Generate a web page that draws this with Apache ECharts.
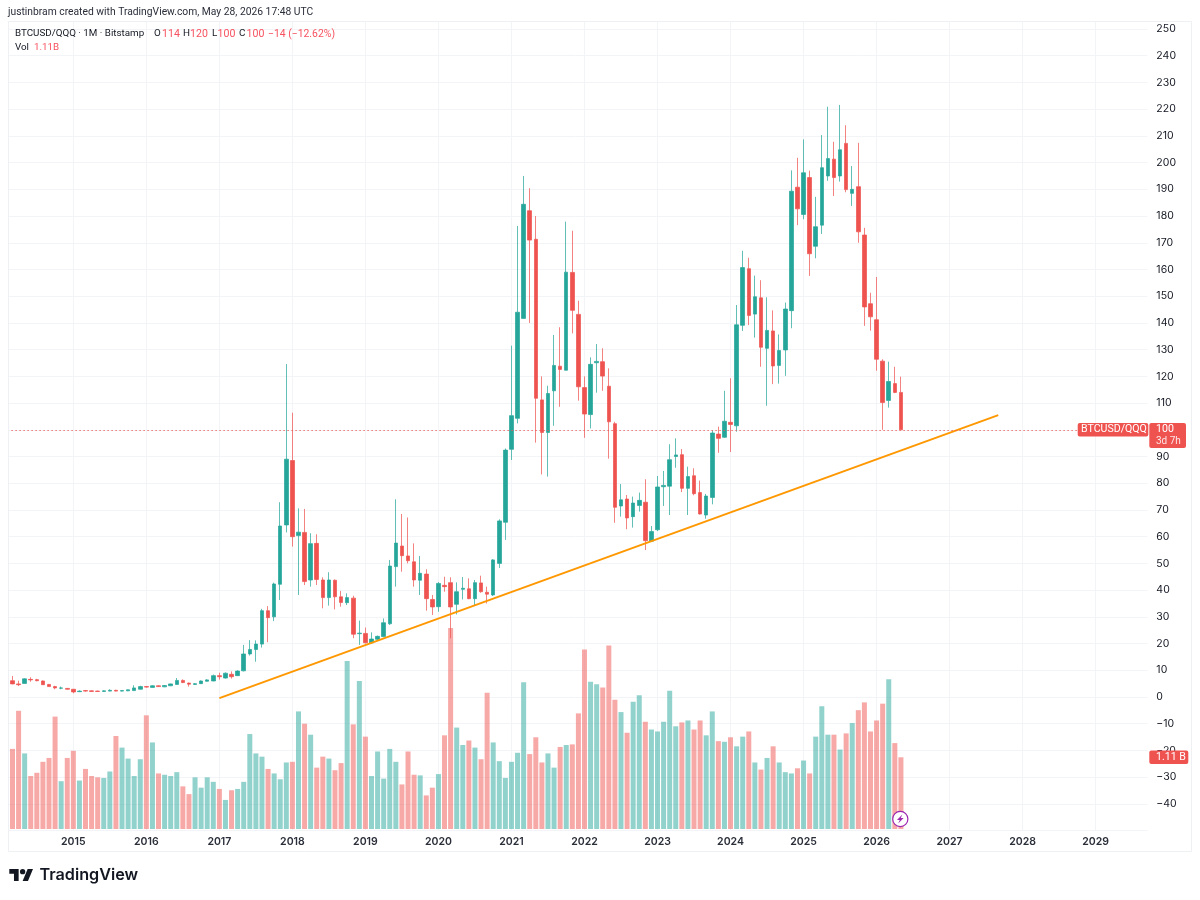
<!DOCTYPE html>
<html>
<head>
<meta charset="utf-8">
<style>html,body{margin:0;padding:0;background:#fff}#c{width:1200px;height:900px}</style>
<script src="https://cdn.jsdelivr.net/npm/echarts@6/dist/echarts.min.js"></script>
</head>
<body>
<div id="c"></div>
<script>
const firstYear = 2014, firstMonth = 2, monthCount = 188;

const opens = [9,6.1,4.9,5.1,6.6,6.5,6,4.7,3.9,3.3,3.2,2.9,2,2.4,2.3,2.2,2.1,2.2,2.5,2.2,2.3,2.4,2.9,3.9,3.6,4.2,3.8,4.2,4.7,6.2,5.2,4.7,5,5.9,6,8,7.1,8.5,8,9.8,16.1,17.8,19.8,32.3,30,42.2,64.4,88.5,60.4,61.6,43.8,57.5,43.8,37.2,43.7,37.5,35.3,37,23.7,23.8,20.3,21.6,22.6,27.4,48.8,56.5,52.8,50.6,43.7,46,36.5,33.8,41.8,42.8,34.7,40.3,40.5,36.8,42.7,39.2,38.2,50,65.4,92.7,104.3,141.7,182,171.3,111.2,99,114.6,123.8,122.3,158.9,143.2,115.8,105.7,125.1,125.5,116.3,102.3,71.5,74.1,67.5,71.7,72.9,58.3,62.6,78.7,78.9,90,90.7,78.1,82.8,76.5,68.1,74.7,98.4,97.2,102.8,101.5,139.1,160.3,143.3,149.4,130.5,137,124.1,129.9,144.6,190.8,180.6,194.4,168.7,176.6,195,201.3,195,207.2,188.5,191,172.9,147.2,141.2,125.7,111,117.3,114];
const closes = [6,4.9,4.6,6.8,6.4,6.1,4.6,3.9,3.4,3.4,2.9,1.9,2.2,2.2,2.1,2.1,2.3,2.5,2.2,2.4,2.7,3.4,3.9,3.7,4.2,3.9,4.3,4.9,6.2,5.4,4.8,5,6,6.4,8,7.6,8.9,7.6,9.7,16.1,17.8,19.8,32.3,29.7,42.3,64,89,60,61.7,43.2,57.4,44,37.2,43.8,37.5,35.4,37.2,23.5,23.9,20.3,21.7,22.7,27.8,49,57.6,52.9,51,43.8,46.3,36.8,33.7,42.5,41.3,33.7,39.4,40.7,36.8,42.8,39.4,38.5,51.3,65.9,92.4,105.3,144,184.4,171,111.8,99,113.6,124.1,122.6,159,144.7,116.1,105.9,124.5,125.6,120.1,103,71,73.8,67,72.6,73.6,58.5,61.9,78.6,79.2,88.8,90.6,78.1,82.5,76.1,68.5,75.2,98.8,96.8,103.2,102,139.3,160.7,142.8,149.8,130.9,137.2,123.9,129.7,145.2,189.3,182.7,196.2,165.9,176,198.1,201.5,194.4,204.8,189.9,190,174.1,146,142.3,126.4,110.2,118.1,114,100];
const lows = [5.7,4.8,4.1,5,5.7,5.9,4.5,3.8,2.9,2.9,2.8,1.4,1.9,2,1.9,1.9,2,2.1,2.1,2.1,2.2,2.3,2.8,3.5,3.5,3.8,3.7,4.1,4.6,5.2,3.9,4.6,4.9,5.8,5.9,6.5,6.9,6.9,7.9,9.6,15.5,13.2,18.5,20.5,28.4,36.3,61.6,56.3,38.2,41.9,41.3,41.9,33.2,34.2,32.8,33.8,34.4,22,19.5,20,19.9,21.2,22.4,27,41.3,46.9,50,41.3,38.2,32.3,30.7,31.9,39.4,22,30.9,36.5,36.6,34.4,39,35,37.8,48.3,58.8,88.7,102.4,141.7,140,95.2,83.3,82.5,101.5,108.6,122.3,136.1,110.9,97,100.5,113.9,114.6,89.2,65.2,67.5,62.8,63.4,69.4,55,58,62.1,71.5,68.1,85.8,76.7,68.1,75.5,68.3,66.7,72.1,91.4,97,91.7,99.3,137,139.2,134.5,123.6,109,117.1,117.3,120.2,138,176.6,178.8,157.6,164.2,173.3,193.2,187.5,192.9,188.9,183.8,170,138.9,137.1,122.1,100,108.3,113.7,100];
const highs = [9.5,7.9,6.1,7,7.4,6.8,6.2,4.9,4.2,3.9,3.4,3,2.5,2.6,2.5,2.4,2.5,2.9,2.7,2.5,2.8,4.4,4.2,4.1,4.4,4.4,4.5,5,7.1,6.6,5.4,5.2,6.2,6.7,8.4,9.1,9.2,9.6,10,19.5,21.3,21.2,33,34,42.8,72.9,124.6,106.4,70.6,70.4,61.3,60.9,44.8,46.7,44,39.7,38.8,37.9,28.6,26,24.2,23,29.4,51.3,74,68.5,67.2,57.5,52.8,47.8,38.2,43,45,44.8,42.9,44.9,44.4,43.8,45.4,41.3,51.6,66.5,93,131.5,176.3,195,190.4,180,120,116.5,135.5,138.4,177.9,174.5,148.3,120,127.1,132.1,130.5,123,103,79.7,75.6,75,76.5,81.5,64,82.7,84.6,94.6,96.8,92.8,86.2,85.6,81,76,99.9,101.2,114.6,119.3,146.7,167,164.4,157.7,156,149.6,144.7,135.7,147.6,197.1,201.8,208.7,197,187.2,210.3,220.9,207.8,221.6,214,198.7,207.4,175.6,151.3,157.2,126.4,125.5,123.6,119.9];
const volumes = [1.04,1.24,1.83,1.17,0.82,0.87,1.04,1.10,1.74,0.74,1.10,1.21,0.75,0.93,0.82,0.80,0.79,0.89,1.44,1.26,1.09,0.82,1.08,1.76,1.34,0.86,0.84,0.82,0.88,0.66,0.54,0.80,0.64,0.80,0.73,0.62,0.45,0.60,0.62,0.73,1.47,1.17,1.12,0.93,0.86,0.77,1.03,1.04,1.82,1.63,1.46,0.95,1.12,1.09,0.91,1.02,2.60,1.62,2.29,1.43,0.82,1.20,0.78,1.24,1.04,0.69,1.20,0.84,0.83,0.52,0.64,0.85,1.45,3.11,1.57,1.30,1.37,1.26,1.08,2.11,1.34,1.05,0.79,1.04,1.18,2.27,1.16,1.42,1.03,1.17,0.95,1.27,1.30,1.31,1.79,2.78,2.28,2.24,2.19,2.84,2.00,1.81,1.49,1.97,2.07,1.66,1.54,1.51,1.66,2.14,1.59,1.65,1.68,1.54,1.68,1.45,1.82,1.36,1.35,1.42,1.28,1.43,1.51,1.03,0.92,1.10,1.28,1.03,0.88,0.86,0.94,1.06,0.86,1.43,1.90,1.46,1.46,1.23,1.48,1.64,1.84,1.96,1.51,1.68,1.94,2.32,1.33,1.11];
const trendDates = ['2017-01','2027-09'];
const trendValues = [-0.4,105.5];
const lastPrice = 100;
const lastVolume = 1.11;
const UP='#26a69a', DOWN='#ef5350', UP_V='rgba(38,166,154,0.5)', DOWN_V='rgba(239,83,80,0.5)';
const UP_W='rgba(38,166,154,0.72)', DOWN_W='rgba(239,83,80,0.72)';
const GRIDC='#f2f4f8', INK='#131722', FONT='Inter, "Open Sans", sans-serif', HFONT='Roboto, Inter, sans-serif';

const categories=[];
for(let i=0;i<monthCount;i++){
  const m=firstMonth-1+i;
  categories.push((firstYear+Math.floor(m/12))+'-'+String(m%12+1).padStart(2,'0'));
}
const isJan=(i)=>categories[i].endsWith('-01');
const candleData=opens.map((o,i)=>[o,closes[i],lows[i],highs[i]]);
const volData=volumes.map((v,i)=>({value:v,itemStyle:{color:closes[i]>=opens[i]?UP_V:DOWN_V}}));

const chart=echarts.init(document.getElementById('c'),null,{width:1200,height:900});
const option={
  animation:false,
  backgroundColor:'#fff',
  textStyle:{fontFamily:FONT},
  grid:[
    {left:3.36,width:1144,top:21,height:809.6,containLabel:false},
    {left:3.36,width:1144,top:500,height:329,containLabel:false}
  ],
  xAxis:[
    {type:'category',gridIndex:0,data:categories,boundaryGap:true,
     axisLine:{show:false},axisTick:{show:false},
     axisLabel:{interval:(i)=>isJan(i),formatter:(v)=>v.slice(0,4),margin:6,
       fontFamily:FONT,fontSize:10.5,fontWeight:600,color:'#2a2e39'},
     splitLine:{show:true,alignWithLabel:true,interval:(i)=>isJan(i),lineStyle:{color:GRIDC,width:1}}},
    {type:'category',gridIndex:1,data:categories,boundaryGap:true,show:false}
  ],
  yAxis:[
    {type:'value',gridIndex:0,position:'right',min:-50,max:253,interval:10,scale:false,
     axisLine:{show:false},axisTick:{show:false},
     axisLabel:{margin:9,fontFamily:FONT,fontSize:10.5,color:INK,padding:[2,0,0,0],
       formatter:(v)=>(v===253||v===-50)?'':String(v).replace('-','\u2212')},
     splitLine:{show:true,lineStyle:{color:GRIDC,width:1}}},
    {type:'value',gridIndex:1,min:0,max:5.093,show:false}
  ],
  series:[
    {name:'Vol',type:'bar',xAxisIndex:1,yAxisIndex:1,data:volData,barWidth:5,z:1,silent:true},
    {name:'BTCUSD/QQQ',type:'candlestick',xAxisIndex:0,yAxisIndex:0,data:candleData,barWidth:4,z:3,silent:true,
     itemStyle:{color:UP,color0:DOWN,borderColor:UP_W,borderColor0:DOWN_W,borderWidth:1},
     markLine:{silent:true,symbol:'none',animation:false,label:{show:false},
       lineStyle:{color:DOWN,type:[1.5,2.5],width:1,opacity:.8},
       data:[{yAxis:lastPrice}]}},
    {name:'Trend',type:'line',xAxisIndex:0,yAxisIndex:0,symbol:'none',silent:true,z:4,
     data:trendDates.map((d,i)=>[d,trendValues[i]]),
     lineStyle:{color:'#ff9800',width:2}}
  ]
};
chart.setOption(option);

const yP=chart.convertToPixel({yAxisIndex:0},lastPrice);
const yV=chart.convertToPixel({yAxisIndex:1},lastVolume);
const G=[];
function txt(x,y,s,o){G.push({type:'text',z:50,x:x,y:y,silent:true,style:Object.assign({text:s,fontFamily:HFONT,fontSize:9.8,fill:INK,textVerticalAlign:'middle'},o||{})});}
function box(x,y,w,h,fill,r){G.push({type:'rect',z:49,silent:true,shape:{x:x,y:y,width:w,height:h,r:r||1},style:{fill:fill}});}
// mask and frame
box(0,0,8,900,'#fff',0);
G.push({type:'rect',z:48,silent:true,shape:{x:8.5,y:21.5,width:1183,height:830},style:{fill:'none',stroke:'#eef0f4',lineWidth:1}});
// header
txt(8,12.5,'justinbram created with TradingView.com, May 28, 2026 17:48 UTC',{fontSize:10.3,fill:'#2a2e39'});
const R='#f7525f';
txt(15,34,'BTCUSD/QQQ \u00b7 1M \u00b7 Bitstamp');
txt(154,34,'O');txt(162,34,'114',{fill:R,fontSize:10.6});
txt(183,34,'H');txt(190,34,'120',{fill:R,fontSize:10.6});
txt(212,34,'L');txt(217.5,34,'100',{fill:R,fontSize:10.6});
txt(239,34,'C');txt(246.5,34,'100',{fill:R,fontSize:10.6});
txt(268,34,'\u221214 (\u221212.62%)',{fill:R,fontSize:10.4});
txt(15,48,'Vol');txt(34,48,'1.11B',{fill:R});
// price tags
box(1077.7,yP-6.7,70.6,13.4,DOWN,2);
txt(1081,yP,'BTCUSD/QQQ',{fontSize:10.6,fill:'#fff'});
box(1149.3,yP-6.7,36.7,25,DOWN,2);
txt(1156,yP,'100',{fontSize:10.6,fill:'#fff'});
txt(1156,yP+12,'3d 7h',{fontSize:10,fill:'rgba(255,255,255,.85)'});
box(1149.3,yV-6.7,39,13.4,DOWN,2);
txt(1156,yV,'1.11 B',{fontSize:10.6,fill:'#fff'});
// marker
G.push({type:'circle',z:50,silent:true,shape:{cx:900.3,cy:819,r:7.6},style:{fill:'#fff',stroke:'#9c27b0',lineWidth:1.2}});
G.push({type:'polygon',z:51,silent:true,shape:{points:[[902.3,814.5],[897,820],[899.8,820],[898.2,823.5],[903.6,818],[900.8,818]]},style:{fill:'#9c27b0'}});
// logo
const lx=(v)=>9.3+v*0.667, ly=(v)=>866.3+v*0.667;
G.push({type:'polygon',z:50,silent:true,shape:{points:[[14,22],[7,22],[7,11],[0,11],[0,4],[14,4]].map(p=>[lx(p[0]),ly(p[1])])},style:{fill:INK}});
G.push({type:'polygon',z:50,silent:true,shape:{points:[[28,22],[20,22],[27.5,4],[35.5,4]].map(p=>[lx(p[0]),ly(p[1])])},style:{fill:INK}});
G.push({type:'circle',z:50,silent:true,shape:{cx:lx(20),cy:ly(8),r:2.67},style:{fill:INK}});
txt(39.5,875.5,'TradingView',{fontFamily:FONT,fontSize:16.2,fontWeight:600,fill:INK});
chart.setOption({graphic:{elements:G}});
</script>
</body>
</html>
